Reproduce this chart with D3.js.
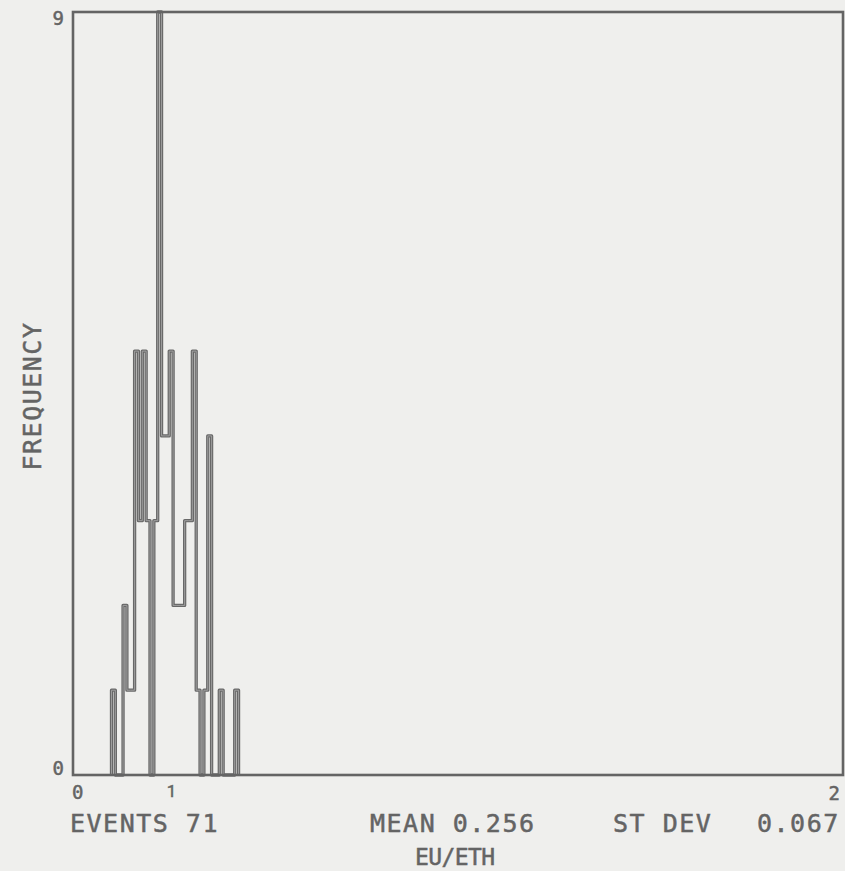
<!DOCTYPE html>
<html>
<head>
<meta charset="utf-8">
<script src="https://cdn.jsdelivr.net/npm/d3@7"></script>
<style>
  html, body { margin: 0; padding: 0; background: #eeeeec; }
  svg { display: block; }
  text { font-family: "DejaVu Sans Mono", monospace; fill: #646464; stroke: #646464; stroke-width: 0.5px; }
</style>
</head>
<body>
<script>
// Histogram of EU/ETH ratios, bins of width 0.01
const binLeft = [0.10, 0.11, 0.12, 0.13, 0.14, 0.15, 0.16, 0.17, 0.18, 0.19,
                 0.20, 0.21, 0.22, 0.23, 0.24, 0.25, 0.26, 0.27, 0.28, 0.29,
                 0.30, 0.31, 0.32, 0.33, 0.34, 0.35, 0.36, 0.37, 0.38, 0.39,
                 0.40, 0.41, 0.42];
const counts  = [1, 0, 0, 2, 1, 1, 5, 3, 5, 3,
                 0, 3, 9, 4, 4, 5, 2, 2, 2, 3,
                 3, 5, 1, 0, 1, 4, 0, 0, 1, 0,
                 0, 0, 1];
const binWidth = 0.01;
const xTicks = [0, 2];
const yTicks = [0, 9];
const events = 71;
const meanValue = 0.256;
const stDev = 0.067;
const xTitle = "EU/ETH";
const yTitle = "FREQUENCY";

const W = 845, H = 871;
const plotL = 73, plotR = 843, plotT = 12, plotB = 775;
const ink = "#646464";

const svg = d3.select("body").append("svg").attr("width", W).attr("height", H);
svg.append("rect").attr("width", W).attr("height", H).attr("fill", "#efefed");

const x = d3.scaleLinear().domain([0, 2]).range([plotL, plotR]);
const y = d3.scaleLinear().domain([0, 9]).range([plotB, plotT]);

// step outline of the histogram
const pts = [[binLeft[0], 0]];
binLeft.forEach((b, i) => {
  pts.push([b, counts[i]]);
  pts.push([b + binWidth, counts[i]]);
});
pts.push([binLeft[binLeft.length - 1] + binWidth, 0]);
const line = d3.line().x(d => x(d[0])).y(d => y(d[1]));

// pen stroke with a lighter core
const g = svg.append("g");
g.append("path").attr("d", line(pts)).attr("fill", "none")
  .attr("stroke", "#686868").attr("stroke-width", 3.3).attr("stroke-linejoin", "round");
g.append("path").attr("d", line(pts)).attr("fill", "none")
  .attr("stroke", "#a4a4a4").attr("stroke-width", 0.9).attr("stroke-linejoin", "round");

// frame
svg.append("rect").attr("x", plotL).attr("y", plotT)
  .attr("width", plotR - plotL).attr("height", plotB - plotT)
  .attr("fill", "none").attr("stroke", ink).attr("stroke-width", 2.6);

// y tick labels
svg.selectAll(".ylab").data(yTicks).enter().append("text")
  .attr("x", plotL - 9)
  .attr("y", d => d === 0 ? y(d) : y(d) + 13)
  .attr("text-anchor", "end").attr("font-size", 19)
  .text(d => d);

// x tick labels
svg.append("text").attr("x", x(xTicks[0]) - 1).attr("y", 799)
  .attr("font-size", 19).text(xTicks[0]);
svg.append("text").attr("x", x(xTicks[1]) - 3).attr("y", 800)
  .attr("text-anchor", "end").attr("font-size", 19).text(xTicks[1]);

// marker at the mean
svg.append("text").attr("x", x(meanValue)).attr("y", 797)
  .attr("text-anchor", "middle").attr("font-size", 17)
  .style("font-family", "Roboto, sans-serif").text("1");

// summary line
const stat = svg.append("g").attr("font-size", 25).attr("letter-spacing", 1.5);
stat.append("text").attr("x", 70).attr("y", 832).text("EVENTS " + events);
stat.append("text").attr("x", 370).attr("y", 832).text("MEAN " + meanValue.toFixed(3));
stat.append("text").attr("x", 613).attr("y", 832).text("ST DEV");
stat.append("text").attr("x", 757).attr("y", 832).text(stDev.toFixed(3));

svg.append("text").attr("x", 415).attr("y", 865).attr("font-size", 23)
  .attr("letter-spacing", -0.6).text(xTitle);

svg.append("text").attr("transform", "translate(41," + 396 + ") rotate(-90)")
  .attr("text-anchor", "middle").attr("font-size", 25).attr("letter-spacing", 1.5)
  .text(yTitle);
</script>
</body>
</html>
